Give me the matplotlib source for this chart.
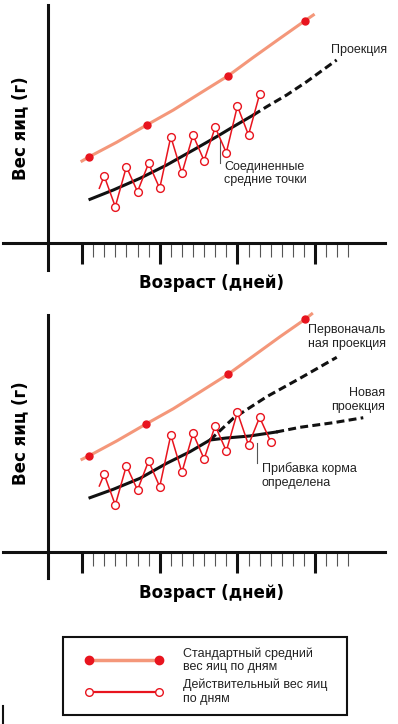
import matplotlib
matplotlib.use("Agg")
import matplotlib.pyplot as plt
from matplotlib.lines import Line2D
from matplotlib.legend_handler import HandlerLine2D

# ====== data: day = index from first major tick, weight in arbitrary units ======
# --- top panel ---
std_days_top = [0.0, 0.66, 3.12, 5.83, 8.23, 10.63, 13.18, 15.44, 17.84, 20.09, 20.84]
std_w_top = [8.2, 8.63, 10.07, 11.8, 13.3, 14.97, 16.73, 18.57, 20.47, 22.23, 22.8]
std_dot_idx = [1, 3, 6, 9]

act_days = [1.56, 2, 3, 4, 5, 6, 7, 8, 9, 10, 11, 12, 13, 14, 15, 16]
act_w_top = [5.47, 6.7, 3.63, 7.63, 5.13, 7.97, 5.47, 10.63, 6.97, 10.8, 8.23,
             11.57, 9.03, 13.7, 10.8, 14.87]

avg_days_top = [0.72, 2.82, 5.23, 7.63, 10.03, 12.13, 13.63, 15.44]
avg_w_top = [4.37, 5.3, 6.47, 7.8, 9.3, 10.63, 11.63, 12.8]
proj_days_top = [15.44, 16.64, 18.44, 20.24, 22.94]
proj_w_top = [12.8, 13.63, 14.8, 16.13, 18.3]

# --- bottom panel ---
std_days_bot = [0.0, 0.66, 3.12, 5.77, 8.23, 10.63, 13.15, 15.44, 17.84, 20.09, 20.69]
std_w_bot = [9.27, 9.63, 11.1, 12.8, 14.33, 16.0, 17.77, 19.6, 21.53, 23.27, 23.8]

act_days_bot = [1.56, 2, 3, 4, 5, 6, 7, 8, 9, 10, 11, 12, 13, 14, 15, 16, 17]
act_w_bot = [6.6, 7.77, 4.7, 8.63, 6.2, 9.1, 6.53, 11.7, 7.97, 11.87, 9.3,
             12.63, 10.1, 13.97, 10.7, 13.47, 11.03]

avg_days_bot = [0.72, 2.82, 5.23, 7.63, 9.73, 11.53, 13.0, 15.1, 17.5]
avg_w_bot = [5.43, 6.27, 7.37, 8.87, 10.03, 11.2, 11.4, 11.6, 12.0]
old_proj_days = [11.53, 13.63, 16.64, 19.64, 22.95]
old_proj_w = [11.2, 13.37, 15.53, 17.37, 19.47]
new_proj_days = [17.5, 19.64, 22.64, 25.34]
new_proj_w = [12.0, 12.47, 12.93, 13.43]

major_days = [0, 7, 14, 21]
minor_days = [d for d in range(1, 25) if d % 7 != 0]

# ====== style ======
SALMON = "#F4977A"
RED = "#E8141E"
BLACK = "#111111"
GREY = "#222222"
TEXT_FONT = ["Liberation Sans", "DejaVu Sans"]
LABEL_KW = dict(fontsize=13.3, fontweight="bold", family="DejaVu Sans",
                fontstretch="condensed")

W, H = 398, 724
PX_PER_DAY = 11.1
X0_PX = 82          # pixel of day 0
Y_AXIS_DAY = (48 - X0_PX) / PX_PER_DAY
XLIM = (-X0_PX / PX_PER_DAY, (W - X0_PX) / PX_PER_DAY)
DASH = (0, (2.6, 1.4))


def setup_panel(ax, ylim, vbounds):
    ax.set_xlim(*XLIM)
    ax.set_ylim(*ylim)
    ax.patch.set_visible(False)
    for s in ("top", "right"):
        ax.spines[s].set_visible(False)
    ax.spines["left"].set_position(("data", Y_AXIS_DAY))
    ax.spines["bottom"].set_position(("data", 0))
    ax.spines["left"].set_bounds(*vbounds)
    ax.spines["bottom"].set_bounds(-7.1, 27.3)
    for s in ("left", "bottom"):
        ax.spines[s].set_linewidth(2.2)
        ax.spines[s].set_color(BLACK)
    ax.set_yticks([])
    ax.set_xticks(major_days)
    ax.set_xticks(minor_days, minor=True)
    ax.tick_params(axis="x", which="major", length=15, width=2.2,
                   color=BLACK, labelbottom=False)
    ax.tick_params(axis="x", which="minor", length=10, width=0.8, color="#555555")


def draw_common(ax, sd, sw, ad, aw, lab_w, xlab_w):
    ax.plot(sd, sw, color=SALMON, lw=2.2, zorder=2)
    ax.plot([sd[i] for i in std_dot_idx], [sw[i] for i in std_dot_idx], "o",
            color=RED, ms=5, zorder=3)
    ax.plot(ad, aw, color=RED, lw=1.1, marker="o", ms=5.6, mfc="white",
            mec=RED, mew=1, markevery=list(range(1, len(ad))), zorder=4)
    ax.text(Y_AXIS_DAY - 2.5, lab_w, "Вес яиц (г)", rotation=90, ha="center",
            va="center", **LABEL_KW)
    ax.text(11.7, xlab_w, "Возраст (дней)", ha="center", va="center", **LABEL_KW)


fig = plt.figure(figsize=(W / 100, H / 100), dpi=100)

# -------- top panel --------
ax1 = fig.add_axes([0, 1 - 300 / H, 1, 300 / H])
setup_panel(ax1, (-5.7, 24.3), (-2.7, 23.8))
draw_common(ax1, std_days_top, std_w_top, act_days, act_w_top, 11.5, -4.0)
ax1.plot(avg_days_top, avg_w_top, color=BLACK, lw=2.2, zorder=3)
ax1.plot(proj_days_top, proj_w_top, color=BLACK, lw=2.2, ls=DASH, zorder=3)
ax1.plot([12.43, 12.43], [10.3, 8.0], color="#555555", lw=0.8)
ax1.text(12.8, 6.95, "Соединенные\nсредние точки", ha="left", va="center",
         fontsize=9, color=GREY, family=TEXT_FONT, linespacing=1.2)
ax1.text(22.4, 19.3, "Проекция", ha="left", va="center", fontsize=9,
         color=GREY, family=TEXT_FONT)

# -------- bottom panel --------
ax2 = fig.add_axes([0, 1 - 600 / H, 1, 300 / H])
setup_panel(ax2, (-4.8, 25.2), (-2.63, 23.7))
draw_common(ax2, std_days_bot, std_w_bot, act_days_bot, act_w_bot, 11.9, -4.1)
ax2.plot(avg_days_bot, avg_w_bot, color=BLACK, lw=2.2, zorder=3)
ax2.plot(old_proj_days, old_proj_w, color=BLACK, lw=2.2, ls=DASH, zorder=3)
ax2.plot(new_proj_days, new_proj_w, color=BLACK, lw=2.2, ls=DASH, zorder=3)
ax2.plot([15.77, 15.77], [10.9, 8.9], color="#555555", lw=0.8)
ax2.text(16.2, 7.65, "Прибавка корма\nопределена", ha="left", va="center",
         fontsize=9, color=GREY, family=TEXT_FONT, linespacing=1.2)
ax2.text(20.36, 21.5, "Первоначаль\nная проекция", ha="left", va="center",
         fontsize=9, color=GREY, family=TEXT_FONT, linespacing=1.2)
ax2.text(27.3, 15.2, "Новая\nпроекция", ha="right", va="center",
         multialignment="right", fontsize=9, color=GREY, family=TEXT_FONT,
         linespacing=1.2)

# -------- legend --------
h_std = Line2D([], [], color=SALMON, lw=2.5, marker="o", ms=6, mfc=RED, mec=RED)
h_act = Line2D([], [], color=RED, lw=1.6, marker="o", ms=5.5, mfc="white",
               mec=RED, mew=1)
hmap = {h: HandlerLine2D(numpoints=2, marker_pad=0, xpad=1.28) for h in (h_std, h_act)}
leg = fig.legend([h_std, h_act],
                 ["Стандартный средний\nвес яиц по дням",
                  "Действительный вес яиц\nпо дням"],
                 handler_map=hmap, loc="upper left",
                 bbox_to_anchor=(63 / W, 1 - 714 / H, 284 / W, 77 / H),
                 mode="expand", borderaxespad=0, borderpad=0.8,
                 handlelength=6.88, handletextpad=1.92, labelspacing=0.4,
                 fancybox=False, edgecolor=BLACK, framealpha=1,
                 prop={"family": TEXT_FONT, "size": 9})
leg.get_frame().set_linewidth(1.5)
for t in leg.get_texts():
    t.set_color(GREY)

fig.add_artist(Line2D([3 / W, 3 / W], [0, 18 / H], color=BLACK, lw=1.5))

fig.savefig("out.png", dpi=100)
